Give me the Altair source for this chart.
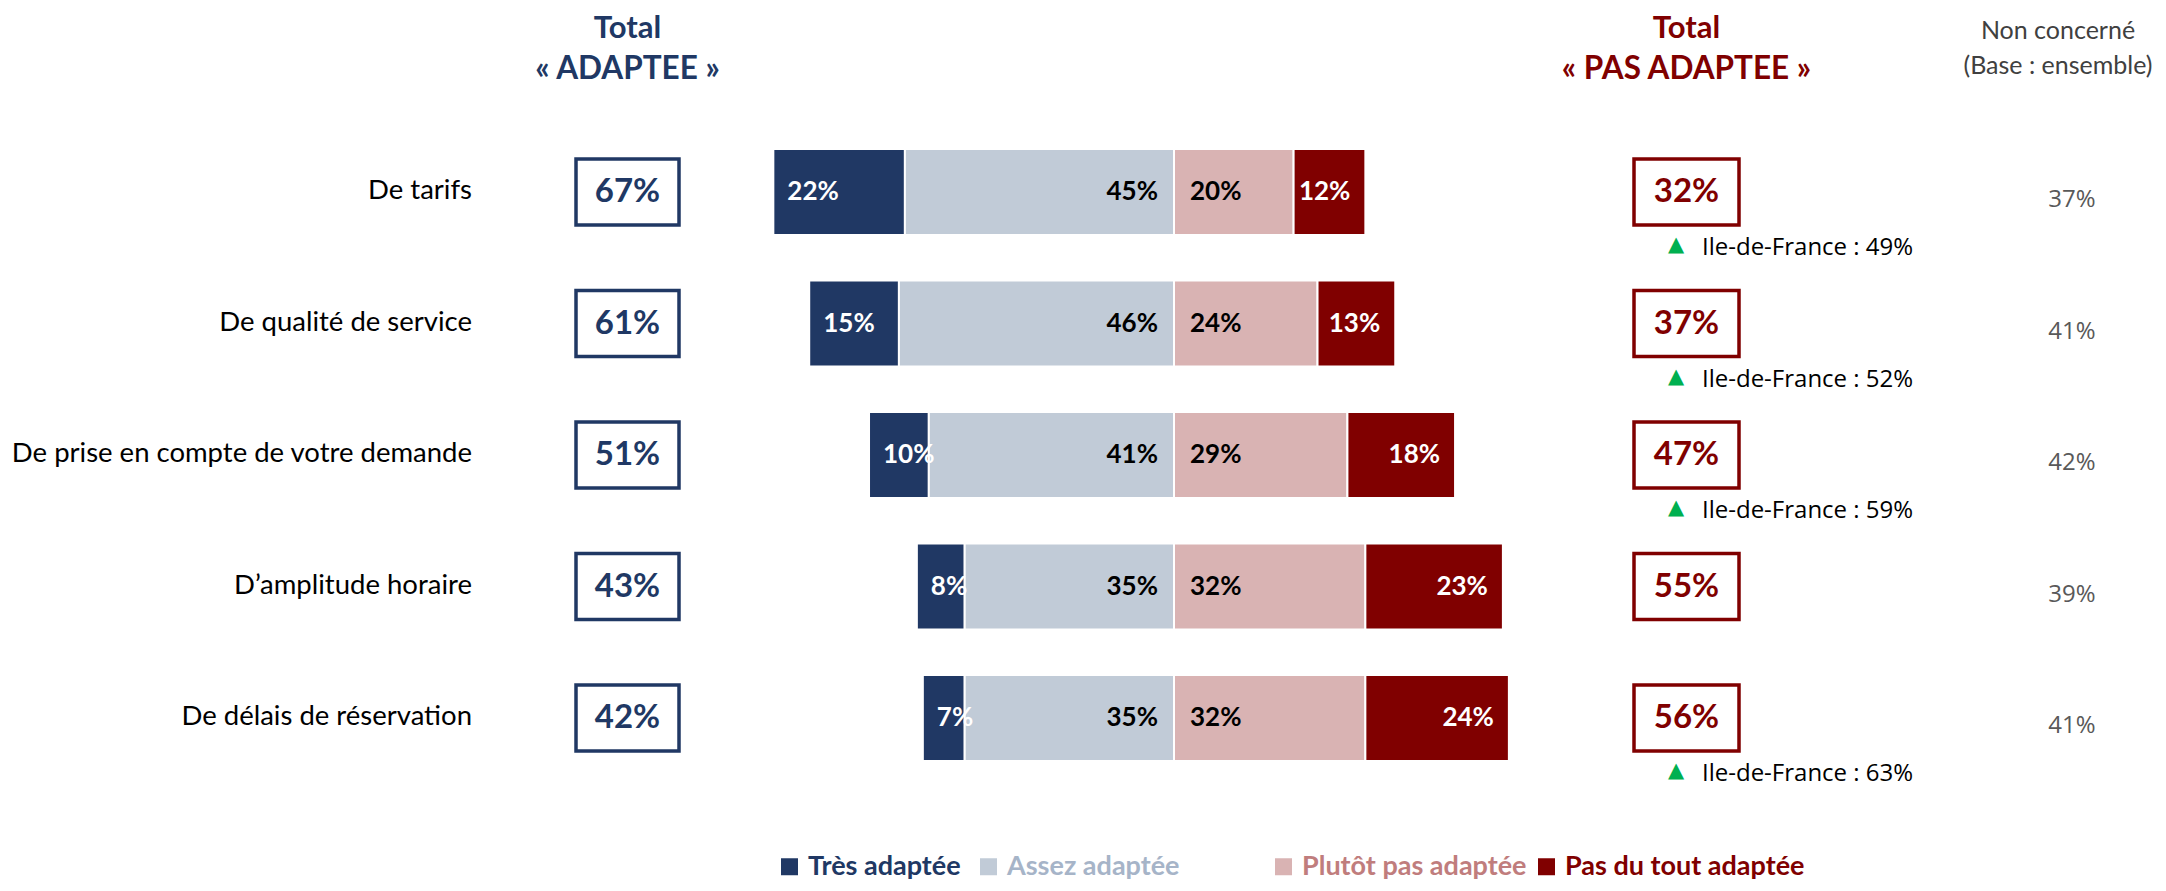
import altair as alt
import pandas as pd

# ---------------- data ----------------
categories = [
    "De tarifs",
    "De qualité de service",
    "De prise en compte de votre demande",
    "D’amplitude horaire",
    "De délais de réservation",
]
tres = [22, 15, 10, 8, 7]
assez = [45, 46, 41, 35, 35]
plutot = [20, 24, 29, 32, 32]
pasdutout = [12, 13, 18, 23, 24]
total_adaptee = [67, 61, 51, 43, 42]
total_pas = [32, 37, 47, 55, 56]
non_concerne = [37, 41, 42, 39, 41]
idf = [49, 52, 59, None, 63]

seg_names = ["Très adaptée", "Assez adaptée", "Plutôt pas adaptée", "Pas du tout adaptée"]
bar_colors = ["#203864", "#c1cbd7", "#d9b3b3", "#800000"]
legend_text_colors = ["#203864", "#a6b4c8", "#c07d7d", "#800000"]

title_left = ["Total", "« ADAPTEE »"]
title_right = ["Total", "« PAS ADAPTEE »"]
title_nc = ["Non concerné", "(Base : ensemble)"]

# ---------------- geometry ----------------
W, H = 2150, 875
CENTER = 1166.0
PX = 5.98
xscale = alt.Scale(domain=[-CENTER / PX, (W - CENTER) / PX], nice=False, zero=False)


def u(px):
    return (px - CENTER) / PX


yscale = alt.Scale(domain=categories, range=[118.25, 775.75], paddingInner=0, paddingOuter=0)
Y = alt.Y("cat:N", scale=yscale, axis=None, sort=categories)

NAVY = "#203864"
MAROON = "#800000"

# ---------------- frames ----------------
rows = []
for i, c in enumerate(categories):
    t, a, p, q = tres[i], assez[i], plutot[i], pasdutout[i]
    rows.append(dict(cat=c, seg=seg_names[0], x0=-(t + a), x1=-a, lbl=f"{t}%"))
    rows.append(dict(cat=c, seg=seg_names[1], x0=-a, x1=0, lbl=f"{a}%"))
    rows.append(dict(cat=c, seg=seg_names[2], x0=0, x1=p, lbl=f"{p}%"))
    rows.append(dict(cat=c, seg=seg_names[3], x0=p, x1=p + q, lbl=f"{q}%"))
bars = pd.DataFrame(rows)
left_df = bars[bars.seg.isin(seg_names[:2])]
right_df = bars[bars.seg.isin(seg_names[2:])]

cat_df = pd.DataFrame({
    "cat": categories,
    "ta": [f"{v}%" for v in total_adaptee],
    "tp": [f"{v}%" for v in total_pas],
    "nc": [f"{v}%" for v in non_concerne],
})
idf_df = pd.DataFrame({"cat": categories, "v": idf}).dropna()
idf_df["lbl"] = [f"Ile-de-France : {int(v)}%" for v in idf_df.v]
idf_df["tri"] = "▲"


def color_expr(names, cols):
    e = f"'{cols[-1]}'"
    for n, c in zip(names[:-1], cols[:-1]):
        e = f"datum.value === '{n}' ? '{c}' : " + e
    return e


def legend(x, names, cols, colpad):
    return alt.Legend(
        title=None, orient="none", legendX=x, legendY=845, direction="horizontal",
        symbolType="square", symbolSize=289, symbolStrokeWidth=0,
        labelFont="Lato", labelFontWeight="bold", labelFontSize=27,
        labelColor=alt.ExprRef(expr=color_expr(names, cols)),
        labelOffset=5, columnPadding=colpad, padding=0, labelLimit=500,
    )


bar_left = alt.Chart(left_df).mark_bar(size=86, stroke="white", strokeWidth=2).encode(
    x=alt.X("x0:Q", scale=xscale, axis=None), x2="x1:Q", y=Y,
    color=alt.Color("seg:N", scale=alt.Scale(domain=seg_names[:2], range=bar_colors[:2]),
                    legend=legend(768, seg_names[:2], legend_text_colors[:2], 14)),
)
bar_right = alt.Chart(right_df).mark_bar(size=86, stroke="white", strokeWidth=2).encode(
    x=alt.X("x0:Q", scale=xscale, axis=None), x2="x1:Q", y=Y,
    color=alt.Color("seg:N", scale=alt.Scale(domain=seg_names[2:], range=bar_colors[2:]),
                    legend=legend(1262, seg_names[2:], legend_text_colors[2:], 6)),
)

lblfont = dict(font="Lato", fontWeight="bold", fontSize=26, baseline="middle")
lab_tres = alt.Chart(bars[bars.seg == seg_names[0]]).mark_text(align="left", dx=14, color="white", **lblfont).encode(
    x=alt.X("x0:Q", scale=xscale), y=Y, text="lbl:N")
lab_assez = alt.Chart(bars[bars.seg == seg_names[1]]).mark_text(align="right", dx=-16, color="black", **lblfont).encode(
    x=alt.X("x1:Q", scale=xscale), y=Y, text="lbl:N")
lab_plutot = alt.Chart(bars[bars.seg == seg_names[2]]).mark_text(align="left", dx=16, color="black", **lblfont).encode(
    x=alt.X("x0:Q", scale=xscale), y=Y, text="lbl:N")
lab_pas = alt.Chart(bars[bars.seg == seg_names[3]]).mark_text(align="right", dx=-15, color="white", **lblfont).encode(
    x=alt.X("x1:Q", scale=xscale), y=Y, text="lbl:N")

cat_labels = alt.Chart(cat_df).mark_text(align="right", baseline="middle", font="Lato", fontSize=27.5,
                                         color="black", dy=-1).encode(
    x=alt.value(464), y=Y, text="cat:N")

BOX_L = (568, 671)
BOX_R = (1626, 1731)
box_left = alt.Chart(cat_df).mark_bar(size=66, fill="white", stroke=NAVY, strokeWidth=3.5).encode(
    x=alt.X(datum=u(BOX_L[0]), scale=xscale), x2=alt.X2(datum=u(BOX_L[1])), y=Y)
box_left_t = alt.Chart(cat_df).mark_text(font="Lato", fontWeight="bold", fontSize=33, color=NAVY,
                                         baseline="middle").encode(
    x=alt.value(sum(BOX_L) / 2), y=Y, text="ta:N")
box_right = alt.Chart(cat_df).mark_bar(size=66, fill="white", stroke=MAROON, strokeWidth=3.5).encode(
    x=alt.X(datum=u(BOX_R[0]), scale=xscale), x2=alt.X2(datum=u(BOX_R[1])), y=Y)
box_right_t = alt.Chart(cat_df).mark_text(font="Lato", fontWeight="bold", fontSize=33, color=MAROON,
                                          baseline="middle").encode(
    x=alt.value(sum(BOX_R) / 2), y=Y, text="tp:N")

tri = alt.Chart(idf_df).mark_text(font="DejaVu Sans", fontSize=21, color="#00b050", baseline="middle",
                                  dy=53).encode(x=alt.value(1668), y=Y, text="tri:N")
idf_t = alt.Chart(idf_df).mark_text(align="left", baseline="middle", font="Open Sans", fontSize=24,
                                    color="black", dy=56).encode(x=alt.value(1694), y=Y, text="lbl:N")

nc_t = alt.Chart(cat_df).mark_text(baseline="middle", font="Open Sans", fontSize=24, color="#595959",
                                   dy=8).encode(x=alt.value(2064), y=Y, text="nc:N")


def head(text, x, y, color, size, weight, font="Lato"):
    return alt.Chart(pd.DataFrame({"t": [text]})).mark_text(
        font=font, fontSize=size, fontWeight=weight, color=color, baseline="middle", align="center"
    ).encode(x=alt.value(x), y=alt.value(y), text="t:N")


heads = [
    head(title_left[0], sum(BOX_L) / 2, 21, NAVY, 31, "bold"),
    head(title_left[1], sum(BOX_L) / 2, 62, NAVY, 31.5, "bold"),
    head(title_right[0], sum(BOX_R) / 2, 21, MAROON, 31, "bold"),
    head(title_right[1], sum(BOX_R) / 2, 62, MAROON, 31.5, "bold"),
    head(title_nc[0], 2050, 23, "#404040", 25, "normal"),
    head(title_nc[1], 2050, 58, "#404040", 25, "normal"),
]

chart = alt.layer(
    bar_left, bar_right, lab_tres, lab_assez, lab_plutot, lab_pas,
    cat_labels, box_left, box_left_t, box_right, box_right_t, tri, idf_t, nc_t, *heads
).resolve_scale(color="independent").properties(
    width=W, height=H, padding=0, autosize=alt.AutoSizeParams(type="none"), background="white"
).configure_view(strokeWidth=0)

chart.save("out.html", embed_options={"renderer": "svg", "actions": False})
